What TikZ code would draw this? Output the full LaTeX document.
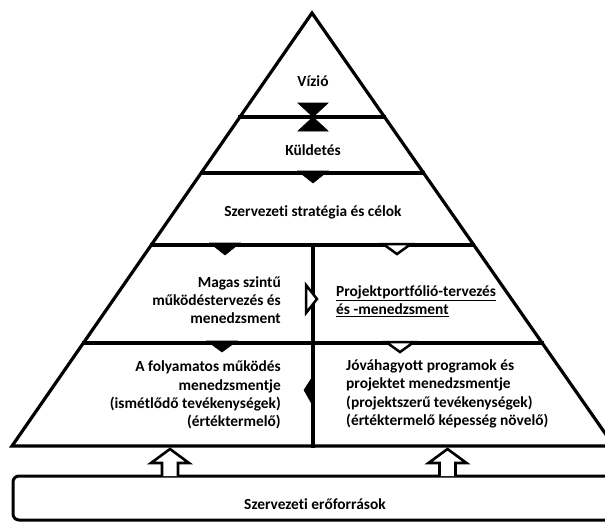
\documentclass[tikz,border=0pt]{standalone}
\usepackage{fontspec}
\setmainfont[Ligatures=NoCommon]{Carlito}
\usetikzlibrary{calc}
\begin{document}
\begin{tikzpicture}[x=1pt,y=-1pt,
  edge/.style={line width=3.2pt,line join=miter,line cap=rect},
  fillmark/.style={fill=black,draw=black,line width=0.6pt,line join=miter},
  hollowmark/.style={fill=white,draw=black,line width=2.5pt,line join=miter},
  blockarrow/.style={fill=white,draw=black,line width=2.6pt,line join=miter},
  lbl/.style={inner sep=0pt,font=\fontsize{15.4}{18.3}\selectfont\bfseries}]
\useasboundingbox (0,0) rectangle (605,523);
% triangle
\coordinate (A) at (312,13);
\coordinate (L) at (12,446);
\coordinate (R) at (614,446);
\draw[edge] (A) -- (L) -- (R) -- cycle;
% levels
\foreach \t/\n in {0.2402/a,0.3695/b,0.5358/c,0.7621/d}{
  \coordinate (l\n) at ($(A)!\t!(L)$);
  \coordinate (r\n) at ($(A)!\t!(R)$);
  \draw[edge] (l\n) -- (r\n);
}
\coordinate (vt) at (313,245);
\coordinate (vb) at (313,446);
\draw[edge] (vt) -- (vb);
% markers
\fill[fillmark] (298,103) -- (328,103) -- (313,117) -- (328,131) -- (298,131) -- (313,117) -- cycle;
\fill[fillmark] (298,171) -- (328,171) -- (313,183) -- cycle;
\fill[fillmark] (210,243) -- (240,243) -- (225,255) -- cycle;
\fill[fillmark] (207,341) -- (237,341) -- (222,352) -- cycle;
\filldraw[hollowmark] (383,244) -- (411,244) -- (397,254) -- cycle;
\filldraw[hollowmark] (386,342) -- (414,342) -- (400,352) -- cycle;
\filldraw[hollowmark] (306,285) -- (306,313) -- (317,299) -- cycle;
\fill[fillmark] (313,376) -- (313,406) -- (304,390) -- cycle;
% resource box
\draw[line width=3pt,rounded corners=6pt] (13,476) rectangle (640,520);
\node[lbl] (res) at (315,504) {Szervezeti erőforrások};
% block arrows
\foreach \cx/\n in {170/ua,447.5/ub}{
  \filldraw[blockarrow] (\cx-8,476) -- (\cx-8,463) -- (\cx-19,463) -- (\cx,449) -- (\cx+19,463) -- (\cx+8,463) -- (\cx+8,476);
}
% labels
\node[lbl] (vizio) at (313,81) {Vízió};
\node[lbl] (kuld) at (313,150) {Küldetés};
\node[lbl] (strat) at (313,212) {Szervezeti stratégia és célok};
\node[lbl,anchor=east,align=right] (magas) at (281,300) {Magas szintű\\működéstervezés és\\menedzsment};
\node[lbl,anchor=east,align=right] (foly) at (281,395) {A folyamatos működés\\menedzsmentje\\(ismétlődő tevékenységek)\\(értéktermelő)};
\node[lbl,anchor=west,align=left] (proj) at (336,301) {\underline{Projektportfólió-tervezés}\\\underline{és -menedzsment}};
\node[lbl,anchor=west,align=left] (jova) at (346,394) {Jóváhagyott programok és\\projektet menedzsmentje\\(projektszerű tevékenységek)\\(értéktermelő képesség növelő)};
\end{tikzpicture}
\end{document}
